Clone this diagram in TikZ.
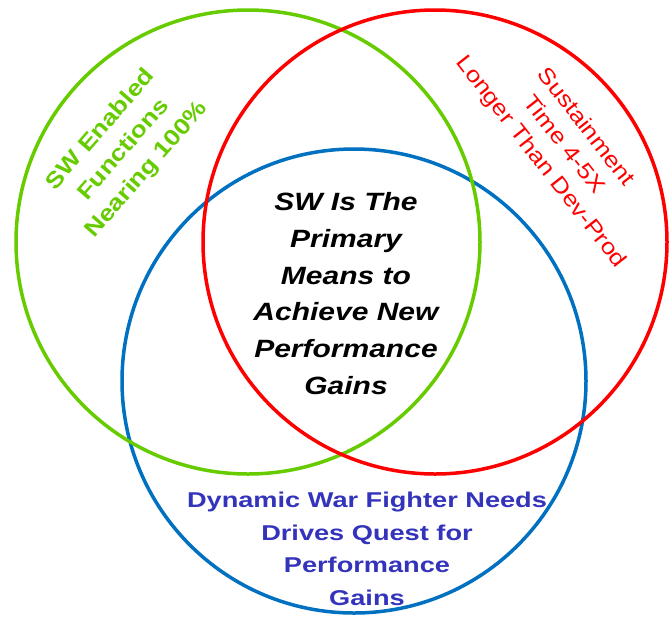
\documentclass[tikz,border=0pt]{standalone}
\usepackage{fontspec}
\setmainfont{Liberation Sans}
\newfontfamily\midfont[FakeStretch=1.2]{Liberation Sans}
\newfontfamily\bluefont[FakeStretch=1.27]{Liberation Sans}
\newfontfamily\sidefont[FakeStretch=1.17]{Liberation Sans}
\definecolor{vgreen}{RGB}{102,204,0}
\definecolor{vred}{RGB}{255,0,0}
\definecolor{vblue}{RGB}{0,112,192}
\definecolor{vtext}{RGB}{51,51,187}
\begin{document}
\begin{tikzpicture}[x=1pt,y=-1pt,
  ring/.style={line width=3.5pt},
  midtext/.style={align=center, inner sep=0pt, font={\midfont\bfseries\itshape\fontsize{25}{36.7}\selectfont}},
  bluetext/.style={align=center, inner sep=0pt, text=vtext, font={\bluefont\bfseries\fontsize{21.4}{32.5}\selectfont}},
  greentext/.style={align=center, inner sep=0pt, text=vgreen, rotate=49, font={\sidefont\bfseries\fontsize{22.5}{30.5}\selectfont}},
  redtext/.style={align=center, inner sep=0pt, text=vred, rotate=-52, font={\sidefont\fontsize{22}{28.5}\selectfont}}]
\useasboundingbox (0,0) rectangle (670,619);
\fill[white] (0,0) rectangle (670,619);
\coordinate (cb) at (354,381);
\coordinate (cg) at (248,242);
\coordinate (cr) at (435,242);
\draw[ring, vblue] (cb) circle[radius=232pt];
\draw[ring, vgreen] (cg) circle[radius=232pt];
\draw[ring, vred] (cr) circle[radius=232pt];
\node[midtext] (mid) at (346,293.5) {SW Is The\\Primary\\Means to\\Achieve New\\Performance\\Gains};
\node[bluetext] (blue) at (367,549) {Dynamic War Fighter Needs\\Drives Quest for\\Performance\\Gains};
\node[greentext] (green) at (124,150) {SW Enabled\\Functions\\Nearing 100\%};
\node[redtext] (red) at (563,145) {Sustainment\\Time 4-5X\\Longer Than Dev-Prod};
\end{tikzpicture}
\end{document}
